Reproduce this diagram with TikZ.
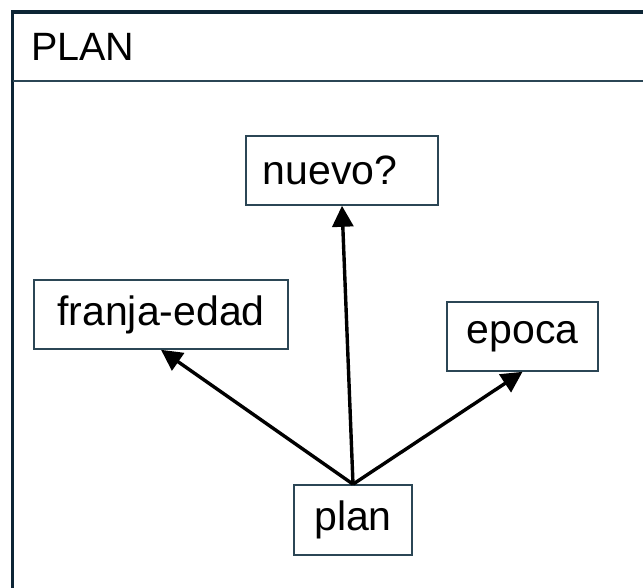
\documentclass[tikz,border=0pt]{standalone}
\usepackage{fontspec}
\setmainfont{Liberation Sans}
\usetikzlibrary{arrows.meta}
\definecolor{frame}{HTML}{0D2535}
\definecolor{boxline}{HTML}{2B4655}
\tikzset{
  lbl/.style={draw=boxline, line width=1.6pt, inner sep=0pt, font=\fontsize{41}{46}\selectfont, text=black, fill=white},
  link/.style={line width=3.4pt, black, -{Triangle[length=21pt,width=21pt]}}
}
\begin{document}
\begin{tikzpicture}[x=1pt,y=-1pt]
\useasboundingbox (0,0) rectangle (643,588);
\begin{scope}
\clip (0,0) rectangle (643,588);
\draw[frame, line width=3.4pt] (12.5,12) rectangle (670,620);
\draw[boxline, line width=2pt] (12.5,81) -- (660,81);
\end{scope}
\node[anchor=base west, inner sep=0pt, font=\fontsize{39.5}{44}\selectfont] (title) at (31,61) {PLAN};
\node[lbl, minimum width=192pt, minimum height=69pt] (nuevo) at (342,170.5) {nuevo?\hspace*{24pt}};
\node[lbl, minimum width=254pt, minimum height=69pt] (franja) at (161,314.5) {franja-edad};
\node[lbl, minimum width=151pt, minimum height=69pt] (epoca) at (522.5,336.5) {epoca};
\node[lbl, minimum width=118pt, minimum height=70pt] (plan) at (353,520) {plan};
\draw[link] (plan.north) -- (nuevo.south);
\draw[link] (plan.north) -- (franja.south);
\draw[link] (plan.north) -- (epoca.south);
\end{tikzpicture}
\end{document}
